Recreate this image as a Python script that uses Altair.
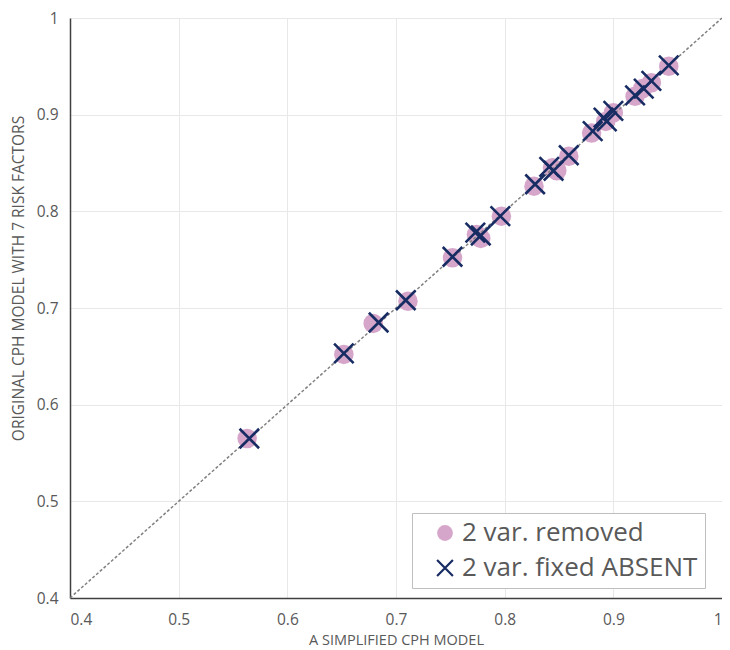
import altair as alt
import pandas as pd

# Series: "2 var. removed" (circles)
removed_x = [0.563, 0.652, 0.679, 0.711, 0.752, 0.774, 0.778, 0.797, 0.827, 0.844,
             0.848, 0.859, 0.880, 0.893, 0.900, 0.920, 0.927, 0.935, 0.951]
removed_y = [0.565, 0.652, 0.684, 0.707, 0.752, 0.776, 0.772, 0.795, 0.826, 0.845,
             0.842, 0.857, 0.881, 0.893, 0.902, 0.919, 0.927, 0.933, 0.950]

# Series: "2 var. fixed ABSENT" (crosses)
absent_x = [0.565, 0.652, 0.684, 0.709, 0.752, 0.773, 0.778, 0.796, 0.828, 0.841,
            0.845, 0.859, 0.881, 0.891, 0.894, 0.900, 0.920, 0.928, 0.935, 0.951]
absent_y = [0.565, 0.653, 0.685, 0.708, 0.753, 0.778, 0.775, 0.795, 0.828, 0.846,
            0.842, 0.858, 0.883, 0.897, 0.893, 0.904, 0.920, 0.927, 0.935, 0.951]

series_names = ["2 var. removed", "2 var. fixed ABSENT"]
ticks = [0.4, 0.5, 0.6, 0.7, 0.8, 0.9, 1.0]
diag = [0.4, 1.0]

df = pd.DataFrame(
    {"x": removed_x + absent_x,
     "y": removed_y + absent_y,
     "series": [series_names[0]] * len(removed_x) + [series_names[1]] * len(absent_x)}
)
diag_df = pd.DataFrame({"x": diag, "y": diag})

xscale = alt.Scale(domain=[0.4, 1.0], nice=False, zero=False)
yscale = alt.Scale(domain=[0.4, 1.0], nice=False, zero=False)

xaxis = alt.Axis(values=ticks, format=".1~f", title="A SIMPLIFIED CPH MODEL",
                 labelFontSize=15.5, labelColor="#595959", labelFont="Open Sans",
                 labelPadding=14, ticks=False, domainColor="#404040", domainWidth=1.5,
                 gridColor="#E8E8E8", titleFont="Open Sans", titleFontSize=14.5,
                 titleFontWeight="normal", titleColor="#595959",
                 titleBaseline="middle", titleAlign="center", titleY=42)
yaxis = alt.Axis(values=ticks, format=".1~f", title="ORIGINAL CPH MODEL WITH 7 RISK FACTORS",
                 labelFontSize=15.5, labelColor="#595959", labelFont="Open Sans",
                 labelPadding=12, ticks=False, domainColor="#404040", domainWidth=1.5,
                 gridColor="#E8E8E8", titleFont="Open Sans", titleFontSize=15.5,
                 titleFontWeight="normal", titleColor="#595959",
                 titleAngle=270, titleBaseline="middle", titleAlign="center",
                 titleX=-52, titleY=260)

legend = alt.Legend(title=None, orient="none", legendX=342, legendY=495,
                    labelFontSize=26, labelColor="#595959", labelFont="Open Sans",
                    labelLimit=0, symbolSize=250, symbolStrokeWidth=2.2, padding=7,
                    symbolOffset=13, strokeColor="#BFBFBF", fillColor="white",
                    rowPadding=9, labelOffset=4)

shape_scale = alt.Scale(domain=series_names, range=["circle", "M-1,-1L1,1M-1,1L1,-1"])
fill_scale = alt.Scale(domain=series_names, range=["#D6A6CA", "transparent"])
stroke_scale = alt.Scale(domain=series_names, range=["transparent", "#172C63"])

base = alt.Chart(df).mark_point(size=380, strokeWidth=2.6, opacity=1).encode(
    x=alt.X("x:Q", scale=xscale, axis=xaxis),
    y=alt.Y("y:Q", scale=yscale, axis=yaxis),
    shape=alt.Shape("series:N", scale=shape_scale, legend=legend),
    fill=alt.Fill("series:N", scale=fill_scale, legend=legend),
    stroke=alt.Stroke("series:N", scale=stroke_scale, legend=legend),
)

circles = base.transform_filter(alt.datum.series == series_names[0])
crosses = base.transform_filter(alt.datum.series == series_names[1])

line = alt.Chart(diag_df).mark_line(color="#808080", strokeDash=[3, 2], strokeWidth=1.5).encode(
    x=alt.X("x:Q", scale=xscale),
    y=alt.Y("y:Q", scale=yscale),
)

chart = alt.layer(circles, line, crosses).properties(
    width=652, height=580,
    autosize=alt.AutoSizeParams(type="none"),
    padding={"left": 62, "top": 10, "right": 0, "bottom": 52},
).configure_view(stroke=None).configure(background="white")

chart.save("out.html", embed_options={"renderer": "svg", "actions": False})
